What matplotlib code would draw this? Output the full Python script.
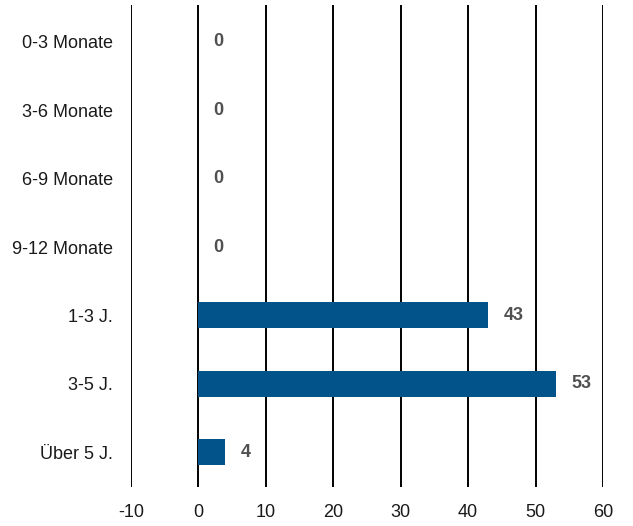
import matplotlib
matplotlib.use("Agg")
import matplotlib.pyplot as plt
from matplotlib import font_manager

KATEGORIEN = ["0-3 Monate", "3-6 Monate", "6-9 Monate", "9-12 Monate", "1-3 J.", "3-5 J.", "Über 5 J."]
WERTE = [0, 0, 0, 0, 43, 53, 4]
X_TICKS = [-10, 0, 10, 20, 30, 40, 50, 60]

noms = {f.name for f in font_manager.fontManager.ttflist}
police = "Liberation Sans Narrow" if "Liberation Sans Narrow" in noms else "Liberation Sans"
plt.rcParams["font.family"] = [police, "DejaVu Sans"]

fig = plt.figure(figsize=(6.33, 5.26), dpi=100)
ax = fig.add_axes([131 / 633, 1 - 487 / 526, 472 / 633, 482 / 526])

y = list(range(len(KATEGORIEN)))
ax.barh(y, WERTE, height=0.38, color="#02538A", zorder=3)

for yi, v in zip(y, WERTE):
    ax.annotate(str(v), xy=(v, yi), xytext=(11, 0), textcoords="offset points",
                ha="left", va="center", fontsize=13, fontweight="bold", color="#505050")

ax.set_xlim(-10, 60)
ax.set_ylim(6.51, -0.54)
ax.set_xticks(X_TICKS)
ax.set_xticklabels([str(t) for t in X_TICKS])
ax.set_yticks(y)
ax.set_yticklabels(KATEGORIEN)
ax.grid(axis="x", color="black", linewidth=1.4, zorder=0)
for s in ax.spines.values():
    s.set_visible(False)
ax.tick_params(axis="both", length=0, labelsize=13, colors="#1a1a1a")
ax.tick_params(axis="x", pad=12)
ax.tick_params(axis="y", pad=13)

fig.savefig("out.png", dpi=100)
